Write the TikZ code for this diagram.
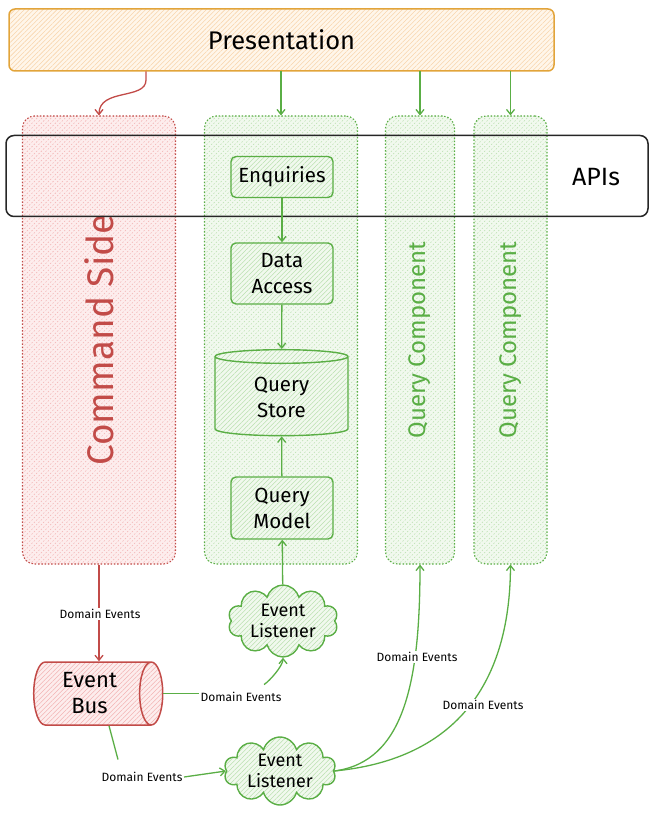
\documentclass[tikz,border=0pt]{standalone}
\usepackage{fontspec}
\setmainfont{Fira Sans}
\usetikzlibrary{arrows.meta,shapes.geometric,shapes.symbols,patterns.meta,calc}
\definecolor{gstroke}{HTML}{5AAE45}
\definecolor{gfill}{HTML}{F1F9EE}
\definecolor{ghatch}{HTML}{BAE0AF}
\definecolor{rstroke}{HTML}{C24B48}
\definecolor{rfill}{HTML}{FDEDED}
\definecolor{rhatch}{HTML}{F3B3B3}
\definecolor{ostroke}{HTML}{E2A43A}
\definecolor{ofill}{HTML}{FFF6EA}
\definecolor{ohatch}{HTML}{F8D5AC}
\newcommand{\fs}[2]{\fontsize{#1}{#2}\selectfont}
\begin{document}
\begin{tikzpicture}[x=1pt,y=-1pt,
  hatchg/.style={preaction={fill=gfill}, pattern={Lines[angle=45,distance=3.3pt,line width=0.55pt]}, pattern color=ghatch},
  hatchr/.style={preaction={fill=rfill}, pattern={Lines[angle=45,distance=3.3pt,line width=0.55pt]}, pattern color=rhatch},
  hatcho/.style={preaction={fill=ofill}, pattern={Lines[angle=45,distance=3.3pt,line width=0.55pt]}, pattern color=ohatch},
  colbase/.style={rounded corners=12pt, line width=1.1pt, dash pattern=on 1.5pt off 1.8pt, inner sep=0pt},
  colr/.style={colbase, draw=rstroke, hatchr},
  colg/.style={colbase, draw=gstroke, hatchg},
  ibox/.style={draw=gstroke, line width=1.4pt, rounded corners=5pt, hatchg, minimum width=102pt, align=center, font=\fs{20.5}{26}},
  lbl/.style={fill=white, inner sep=1.5pt, font=\fs{12}{14}},
  garr/.style={draw=gstroke, line width=1.3pt, -{Straight Barb[length=5pt,width=8pt]}},
  gline/.style={draw=gstroke, line width=1.3pt},
  rarr/.style={draw=rstroke, line width=1.3pt, -{Straight Barb[length=5pt,width=8pt]}},
]
\useasboundingbox (0,0) rectangle (652,818);

% Presentation
\node[draw=ostroke, line width=1.5pt, rounded corners=6pt, hatcho, minimum width=545pt, minimum height=62pt, font=\fs{25.5}{30}] (pres) at (281.5,40) {Presentation};

% columns
\node[colr, minimum width=153pt, minimum height=448pt] (cmd) at (99,340) {};
\node[colg, minimum width=153pt, minimum height=448pt] (qc0) at (281,340) {};
\node[colg, minimum width=69pt, minimum height=448pt] (qc1) at (420,340) {};
\node[colg, minimum width=73pt, minimum height=448pt] (qc2) at (510.5,340) {};

\node[rotate=90, text=rstroke, font=\fs{37}{40}] (cmdtxt) at (99,340) {Command Side};
\node[rotate=90, text=gstroke, font=\fs{24}{28}] (qc1txt) at (420,340) {Query Component};
\node[rotate=90, text=gstroke, font=\fs{24}{28}] (qc2txt) at (510.5,340) {Query Component};

% APIs
\node[draw=black!85, line width=1.5pt, rounded corners=8pt, minimum width=642pt, minimum height=81pt] (apis) at (327,176) {};
\node[font=\fs{25}{28}] (apistxt) at (596,177) {APIs};

% inner boxes
\node[ibox, minimum height=41pt] (enq) at (282,177) {Enquiries};
\node[ibox, minimum height=61pt] (da) at (282,273.5) {Data\\Access};
\node[draw=gstroke, line width=1.4pt, hatchg, cylinder, shape border rotate=90, aspect=0.22, minimum width=133pt, minimum height=86pt, align=center, font=\fs{20.5}{26}] (store) at (281.5,397.5) {Query\\Store};
\node[ibox, minimum height=62pt] (qm) at (282,508) {Query\\Model};

% clouds and bus
\node[draw=gstroke, line width=1.4pt, hatchg, cloud, cloud puffs=10, cloud ignores aspect, minimum width=110pt, minimum height=72pt, align=center, font=\fs{18}{21}, inner sep=0pt] (el1) at (283,621) {Event\\Listener};
\node[draw=gstroke, line width=1.4pt, hatchg, cloud, cloud puffs=10, cloud ignores aspect, minimum width=112pt, minimum height=68pt, align=center, font=\fs{18}{21}, inner sep=0pt] (el2) at (280,771) {Event\\Listener};
\node[draw=rstroke, line width=1.5pt, hatchr, cylinder, aspect=0.48, minimum width=63pt, minimum height=129pt, align=center, font=\fs{22}{26}] (bus) at (89.5,693.5) {Event\\Bus};

% arrows from presentation
\draw[rarr] ([xshift=-135.5pt]pres.south) -- (146,80) .. controls (146,100) and (99,88) .. (cmd.north);
\draw[garr] (pres.south -| qc0.north) -- (qc0.north);
\draw[garr] (pres.south -| qc1.north) -- (qc1.north);
\draw[garr] (pres.south -| qc2.north) -- (qc2.north);

% inner arrows
\draw[garr] (enq) -- (da);
\draw[garr] (da) -- (store);
\draw[garr] (qm) -- (store);
\draw[garr] (el1) -- (qm);

% command side to bus
\draw[rarr] (cmd.south) -- (cmd.south |- bus.north);
\node[lbl] (l1) at (100,614) {Domain Events};

% bus to listener 1
\node[lbl] (l2) at (241,697) {Domain Events};
\draw[gline] (bus.east) -- (l2.west |- bus.east);
\draw[garr] ($(l2.north east)+(-19,-6)$) .. controls +(6,-4) and +(0,8) .. (el1.south);

% bus to listener 2
\node[lbl] (l3) at (142,777) {Domain Events};
\draw[gline] ([xshift=19.5pt]bus.south) -- ([xshift=-24pt,yshift=11pt]l3.north);
\draw[garr] (l3.east) -- (el2.west);

% listener 2 to query components
\draw[garr] (el2.east) .. controls (405,762) and (420,680) .. (qc1.south);
\draw[garr] (el2.east) .. controls (450,760) and (510,690) .. (qc2.south);
\node[lbl] (l4) at (417,657) {Domain Events};
\node[lbl] (l5) at (483,705) {Domain Events};
\end{tikzpicture}
\end{document}
